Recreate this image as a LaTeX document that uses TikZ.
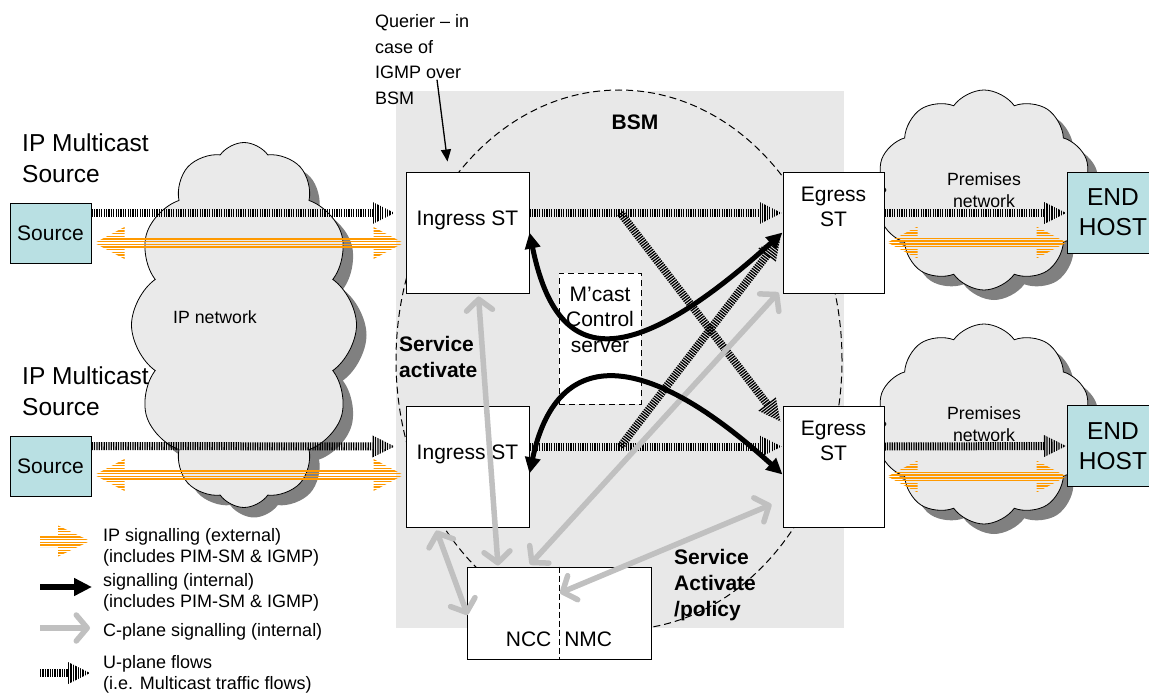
\documentclass[tikz,border=0pt]{standalone}
\usepackage{fontspec}
\setmainfont{Liberation Sans}
\usepackage{tikz}
\usetikzlibrary{shapes,positioning,calc,arrows.meta,shadows}

\definecolor{bsmgrey}{RGB}{232,232,232}
\definecolor{cloudgrey}{RGB}{234,234,234}
\definecolor{shadowgrey}{RGB}{128,128,128}
\definecolor{srcblue}{RGB}{185,224,227}
\definecolor{iporange}{RGB}{255,153,0}
\definecolor{cplanegrey}{RGB}{192,192,192}

\tikzset{
  srcbox/.style={draw,fill=srcblue,line width=1pt,minimum width=81pt,minimum height=60pt,inner sep=0pt,font=\fontsize{21}{25}\selectfont},
  hostbox/.style={draw,fill=srcblue,line width=1pt,minimum width=91pt,minimum height=81pt,inner sep=0pt,align=center,font=\fontsize{24.5}{30}\selectfont},
  stbox/.style={draw,fill=white,line width=1pt,minimum height=121pt,inner sep=0pt},
  boxtext/.style={anchor=center,align=center,inner sep=0pt,font=\fontsize{21}{25.5}\selectfont},
  netcloud/.style={cloud,cloud ignores aspect,cloud puff arc=110,draw,fill=cloudgrey,line width=0.8pt,align=center,font=\fontsize{17.7}{22.5}\selectfont,drop shadow={shadow xshift=10pt,shadow yshift=-10pt,fill=shadowgrey,opacity=1}},
  bigtext/.style={anchor=north west,align=left,inner sep=0pt,font=\fontsize{24.5}{31}\selectfont},
  boldtext/.style={align=left,inner sep=0pt,font=\fontsize{21}{26}\selectfont\bfseries},
  legtext/.style={anchor=north west,align=left,inner sep=0pt,font=\fontsize{18}{21.5}\selectfont},
  uline/.style={line width=8pt,dash pattern=on 1.3pt off 1.1pt},
  ipline/.style={iporange,line width=1.4pt},
  sigint/.style={line width=5pt,{Triangle[length=16pt,width=15pt]}-{Triangle[length=16pt,width=15pt]}},
  cplane/.style={color=cplanegrey,line width=5.5pt,{Straight Barb[length=11pt,width=26pt,round]}-{Straight Barb[length=11pt,width=26pt,round]}}
}

\newcommand{\uflow}[2]{%
  \coordinate (ua) at (#1);
  \coordinate (ub) at (#2);
  \coordinate (uh) at ($(ub)!22pt!(ua)$);
  \draw[uline] (ua) -- (uh);
  \begin{scope}
    \clip ($(uh)!11pt!90:(ub)$) -- (ub) -- ($(uh)!11pt!-90:(ub)$) -- cycle;
    \draw[uline,line width=24pt] (uh) -- (ub);
  \end{scope}}

\newcommand{\ipsig}[2]{%
  \coordinate (ia) at (#1);
  \coordinate (ib) at (#2);
  \begin{scope}
    \clip let \p1=(ia), \p2=(ib) in
      (\x1,\y1) -- ++(30pt,16pt) -- ++(0pt,-10.5pt) -- (\x2-30pt,\y1+5.5pt) -- ++(0pt,10.5pt) -- (\x2,\y1)
      -- ++(-30pt,-16pt) -- ++(0pt,10.5pt) -- (\x1+30pt,\y1-5.5pt) -- ++(0pt,-10.5pt) -- cycle;
    \foreach \o in {-14.85,-12.15,...,15}
      \draw[ipline] let \p1=(ia), \p2=(ib) in (\x1,\y1+\o pt) -- (\x2,\y1+\o pt);
  \end{scope}}

\begin{document}
\begin{tikzpicture}[x=1pt,y=-1pt]
    \useasboundingbox (0,0) rectangle (1149,693);

    \fill[bsmgrey] (396,91) rectangle (844,628);
    \draw[line width=1pt,dash pattern=on 7pt off 4pt] (619,360) ellipse [x radius=223pt,y radius=270pt];
    \node[boldtext] (bsm) at (635,122) {BSM};

    \node[netcloud,cloud puffs=12,minimum width=225pt,minimum height=365pt,label={[xshift=-29pt,yshift=8pt,font=\fontsize{17.7}{22}\selectfont]center:IP network}] (ipnet) at (244,325) {};
    \node[netcloud,cloud puffs=10,minimum width=215pt,minimum height=200pt] (premtop) at (984,190) {Premises\\network};
    \node[netcloud,cloud puffs=10,minimum width=215pt,minimum height=200pt] (prembot) at (984,424) {Premises\\network};

    \node[srcbox] (srctop) at (50.5,233) {Source};
    \node[srcbox] (srcbot) at (50.5,466) {Source};
    \node[stbox,minimum width=123pt,label={[boxtext,label distance=-48.5pt]north:Ingress ST}] (ingtop) at (467.5,232.5) {};
    \node[stbox,minimum width=123pt,label={[boxtext,label distance=-48.5pt]north:Ingress ST}] (ingbot) at (467.5,466.5) {};
    \node[stbox,minimum width=101pt,label={[boxtext,label distance=-35.5pt]north:Egress\\ST}] (egrtop) at (833.5,232.5) {};
    \node[stbox,minimum width=101pt,label={[boxtext,label distance=-35.5pt]north:Egress\\ST}] (egrbot) at (833.5,466.5) {};
    \node[hostbox] (hosttop) at (1113,212.5) {END\\HOST};
    \node[hostbox] (hostbot) at (1113,446) {END\\HOST};
    \node[draw,fill=white,line width=1pt,dash pattern=on 6pt off 4pt,minimum width=82pt,minimum height=131pt,label={[boxtext,label distance=-47pt]north:M’cast\\Control\\server}] (mcast) at (600,338.5) {};
    \node[draw,fill=white,line width=1pt,minimum width=184pt,minimum height=92pt,label={[boxtext,label distance=-20pt]south:NCC\hspace{13pt}NMC}] (ncc) at (559,613) {};
    \draw[line width=1pt,dash pattern=on 6pt off 3pt] (ncc.north) -- (ncc.south);

    \node[legtext,font=\fontsize{18}{25.5}\selectfont] (querier) at (375,14.7) {Querier – in\\case of\\IGMP over\\BSM};
    \node[bigtext] (srctoplbl) at (22,134) {IP Multicast\\Source};
    \node[bigtext] (srcbotlbl) at (22,367) {IP Multicast\\Source};
    \node[boldtext,anchor=north west] (svcact) at (399,336.5) {Service\\activate};
    \node[boldtext,anchor=north west] (svcpol) at (674,549.5) {Service\\Activate\\/policy};

    \draw[line width=1.3pt,-{Triangle[length=12pt,width=10pt]}] ([shift={(62,65)}]querier.north west) -- ([shift={(-20,-10)}]ingtop.north);

    \uflow{[shift={(0,-20)}]srctop.east}{[shift={(-11,-19.5)}]ingtop.west}
    \uflow{[shift={(0,-20)}]srcbot.east}{[shift={(-11,-20)}]ingbot.west}
    \uflow{[shift={(0,-19.5)}]ingtop.east}{[shift={(-1,-19.5)}]egrtop.west}
    \uflow{[shift={(0,-20)}]ingbot.east}{[shift={(-1,-20)}]egrbot.west}
    \uflow{[shift={(0,-19.5)}]egrtop.east}{[shift={(-1,0.5)}]hosttop.west}
    \uflow{[shift={(0,-20)}]egrbot.east}{[shift={(-1,0)}]hostbot.west}
    \coordinate (brtop) at ([shift={(91,-19.5)}]ingtop.east);
    \coordinate (brbot) at ([shift={(91,-20)}]ingbot.east);
    \uflow{brtop}{[shift={(-2,-45)}]egrbot.west}
    \uflow{brbot}{[shift={(-2,5)}]egrtop.west}

    \ipsig{[shift={(3,10)}]srctop.east}{[shift={(-2,10)}]ingtop.west}
    \ipsig{[shift={(3,9)}]srcbot.east}{[shift={(-2,8.5)}]ingbot.west}
    \ipsig{[shift={(3,10)}]egrtop.east}{[shift={(-0.5,30)}]hosttop.west}
    \ipsig{[shift={(3,10)}]egrbot.east}{[shift={(-0.5,30.5)}]hostbot.west}

    \draw[cplane] ([shift={(11,3)}]ingtop.south) -- ([shift={(-61,-1)}]ncc.north);
    \draw[cplane] ([shift={(-31,3)}]ingbot.south) -- ([shift={(1,2)}]ncc.west);
    \draw[cplane] ([shift={(-29,-2)}]ncc.north) -- ([shift={(-4,-1)}]egrtop.south west);
    \draw[cplane] ([shift={(1,-20)}]ncc.center) -- ([shift={(-11,38)}]egrbot.west);

    \draw[sigint] (ingtop.east) .. controls +(26,127.5) and +(-163,147.5) .. (egrtop.west);
    \draw[sigint] ([shift={(0,7)}]ingbot.east) .. controls +(26,-124) and +(-143,-130) .. ([shift={(0,8)}]egrbot.west);

    \coordinate (legipa) at (40,541);
    \coordinate (legipb) at (90,541);
    \begin{scope}
      \clip let \p1=(legipa), \p2=(legipb) in
        (\x1,\y1+6pt) -- (\x2-32pt,\y1+6pt) -- ++(0pt,9.5pt) -- (\x2,\y1) -- ++(-32pt,-15.5pt) -- ++(0pt,9.5pt) -- (\x1,\y1-6pt) -- cycle;
      \foreach \o in {-14.85,-12.15,...,15}
        \draw[ipline] let \p1=(legipa), \p2=(legipb) in (\x1,\y1+\o pt) -- (\x2,\y1+\o pt);
    \end{scope}
    \node[legtext] (leg1) at (103,528) {IP signalling (external)\\(includes PIM-SM \& IGMP)};
    \coordinate (legsa) at (40,587);
    \coordinate (legsb) at (92,587);
    \draw[line width=6pt,-{Triangle[length=18pt,width=17pt]}] (legsa) -- (legsb);
    \node[legtext] (leg2) at (103,573) {signalling (internal)\\(includes PIM-SM \& IGMP)};
    \coordinate (legca) at (40,628);
    \coordinate (legcb) at (90,628);
    \draw[color=cplanegrey,line width=5.5pt,-{Straight Barb[length=11pt,width=26pt,round]}] (legca) -- (legcb);
    \node[legtext] (leg3) at (103,623) {C-plane signalling (internal)};
    \coordinate (legua) at (40,673);
    \coordinate (legub) at (90,673);
    \uflow{legua}{legub}
    \node[legtext] (leg4) at (103,655) {U-plane flows\\(i.e. Multicast traffic flows)};
\end{tikzpicture}
\end{document}
